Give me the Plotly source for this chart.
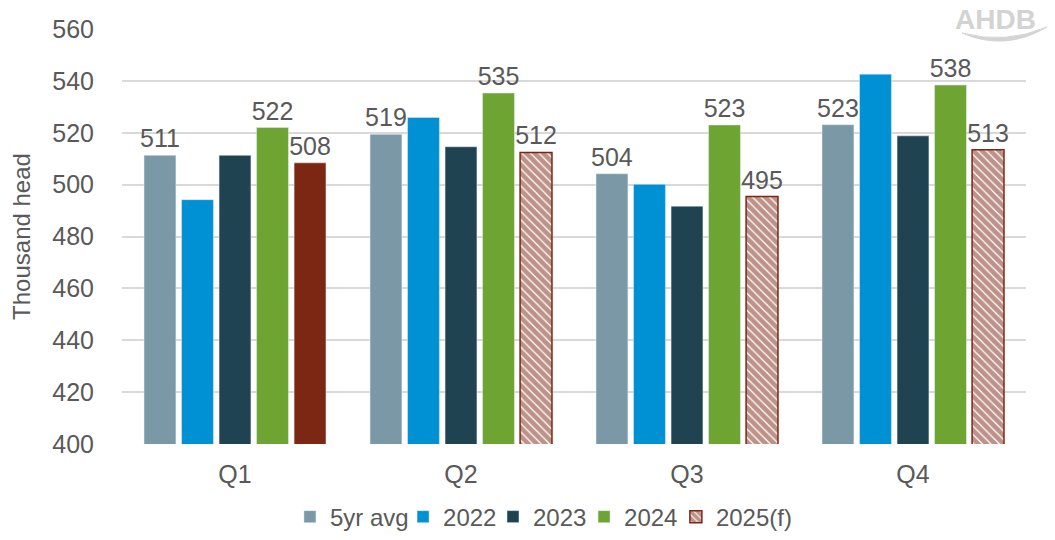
import plotly.graph_objects as go

# Quarterly figures, thousand head
quarters = ['Q1', 'Q2', 'Q3', 'Q4']
avg_5yr = [511.3, 519.4, 504.2, 523.1]
y2022 = [494.2, 525.9, 500.1, 542.6]
y2023 = [511.3, 514.6, 491.7, 518.8]
y2024 = [522.0, 535.3, 523.0, 538.4]
y2025_actual = [508.4]          # Q1 2025 (solid)
y2025_forecast = [512.4, 495.4, 513.4]  # Q2-Q4 2025 forecast (hatched)

GREY_TXT = '#595959'
FONT = 'Liberation Sans, Arial, sans-serif'
BROWN = '#7B2713'

label_fmt = dict(texttemplate='%{y:.0f}', textposition='outside', constraintext='none',
                 textfont=dict(size=25, color=GREY_TXT), cliponaxis=False)

data = [
    go.Bar(x=quarters, y=avg_5yr, name='5yr avg', marker_color='#7A98A6',
           offsetgroup='1', legend='legend', **label_fmt),
    go.Bar(x=quarters, y=y2022, name='2022', marker_color='#0090D4', offsetgroup='2',
           legend='legend2'),
    go.Bar(x=quarters, y=y2023, name='2023', marker_color='#1F4350', offsetgroup='3',
           legend='legend3'),
    go.Bar(x=quarters, y=y2024, name='2024', marker_color='#6DA432',
           offsetgroup='4', legend='legend4', **label_fmt),
    go.Bar(x=quarters[1:], y=y2025_forecast, name='2025(f)', offsetgroup='5',
           legend='legend5',
           marker=dict(color='white', line=dict(color=BROWN, width=1.5),
                       pattern=dict(shape='\\', fgcolor=BROWN, bgcolor='white',
                                    size=6, solidity=0.8)),
           **label_fmt),
    go.Bar(x=quarters[:1], y=y2025_actual, name='2025', marker_color=BROWN,
           offsetgroup='5', showlegend=False, **label_fmt),
]

# one legend box per entry so the spacing can follow the reference
leg_x = [0.1858, 0.3109, 0.4104, 0.5111, 0.6127]
leg = {}
for i, lx in enumerate(leg_x):
    key = 'legend' if i == 0 else 'legend%d' % (i + 1)
    leg[key] = dict(orientation='h', x=lx, xanchor='left', y=-0.176, yanchor='middle',
                    font=dict(size=24, color=GREY_TXT), itemwidth=30,
                    bgcolor='rgba(0,0,0,0)')

layout = go.Layout(
    width=1039, height=524,
    margin=dict(l=114, r=21, t=21, b=88, autoexpand=False),
    paper_bgcolor='white', plot_bgcolor='white',
    font=dict(family=FONT, color=GREY_TXT, size=24),
    barmode='group', bargap=0.17, bargroupgap=0.15,
    xaxis=dict(showgrid=False, showline=False, ticks='outside', ticklen=8,
               tickcolor='rgba(0,0,0,0)', tickfont=dict(size=25, color=GREY_TXT)),
    yaxis=dict(range=[400, 560], dtick=20, showgrid=True, gridcolor='#D9D9D9',
               gridwidth=1.5, zeroline=False, ticks='outside', ticklen=22,
               tickcolor='rgba(0,0,0,0)', tickfont=dict(size=25, color=GREY_TXT),
               title=dict(text='Thousand head', font=dict(size=24, color=GREY_TXT),
                          standoff=14)),
    annotations=[dict(text='<b>AHDB</b>', xref='paper', yref='paper', x=1.013, y=1.024,
                      xanchor='right', yanchor='middle', showarrow=False,
                      font=dict(size=28, color='#D3D3D3', family=FONT))],
    shapes=[dict(type='path', xref='paper', yref='paper',
                 path='M 0.9292,0.9904 Q 0.9768,0.945 1.0232,1.0048 '
                      'Q 0.9768,0.962 0.9292,0.9904 Z',
                 fillcolor='#D3D3D3', line=dict(color='#D3D3D3', width=1))],
    **leg,
)

fig = go.Figure(data=data, layout=layout)
fig.write_html('out.html')
